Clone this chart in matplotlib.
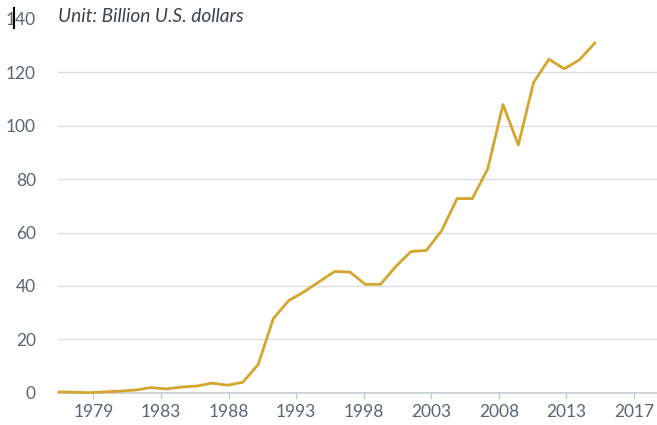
import matplotlib.pyplot as plt
from matplotlib.lines import Line2D

# 数据 (十亿美元)
years = list(range(1979, 2015))
values = [
    0.3, 0.2, 0.0, 0.3, 0.6, 1.0, 1.9, 1.4, 2.1, 2.5,
    3.6, 2.8, 3.9, 10.5, 27.8, 34.5, 37.8, 41.6, 45.4, 45.2,
    40.6, 40.6, 47.3, 52.9, 53.3, 60.8, 72.7, 72.7, 83.8, 107.9,
    92.8, 116.2, 124.9, 121.3, 124.7, 131.0,
]
tick_labels = ["1979", "1983", "1988", "1993", "1998", "2003", "2008", "2013", "2017"]
y_ticks = [0, 20, 40, 60, 80, 100, 120, 140]

line_color = "#D4A52F"
grid_color = "#DADDE2"
text_color = "#5B6573"

plt.rcParams["font.family"] = ["Lato", "DejaVu Sans"]

fig = plt.figure(figsize=(6.57, 4.25), dpi=100)
ax = fig.add_axes([58 / 657, 32.3 / 425, 1 - 58 / 657, 373.8 / 425])

ax.plot(years, values, color=line_color, linewidth=2.0, clip_on=False, zorder=3)

ax.set_xlim(1978.93, 2018.06)
ax.set_ylim(0, 140)

# 刻度位置按原图均匀分布
tick_pos = [1981.24 + 4.415 * k for k in range(len(tick_labels))]
ax.set_xticks(tick_pos)
ax.set_xticklabels(tick_labels)
ax.set_yticks(y_ticks)

for y in y_ticks[1:-1]:
    ax.axhline(y, color=grid_color, linewidth=1.0, zorder=1)

for side in ["top", "right", "left"]:
    ax.spines[side].set_visible(False)
ax.spines["bottom"].set_color("#C5CAD2")
ax.spines["bottom"].set_linewidth(1.2)

ax.tick_params(axis="y", length=0, pad=16, labelsize=12.5, labelcolor=text_color)
ax.tick_params(axis="x", length=4, width=1, color="#C5CAD2", pad=4,
               labelsize=12.5, labelcolor=text_color)

fig.text(58 / 657, 1 - 16 / 425, "Unit: Billion U.S. dollars", fontsize=13.8,
         style="italic", color="#3E434A", va="center", ha="left")

# 左上角的光标竖线
fig.add_artist(Line2D([14 / 657, 14 / 657], [1 - 8 / 425, 1 - 28 / 425],
                      color="black", linewidth=1.5))

fig.savefig("out.png", dpi=100)
